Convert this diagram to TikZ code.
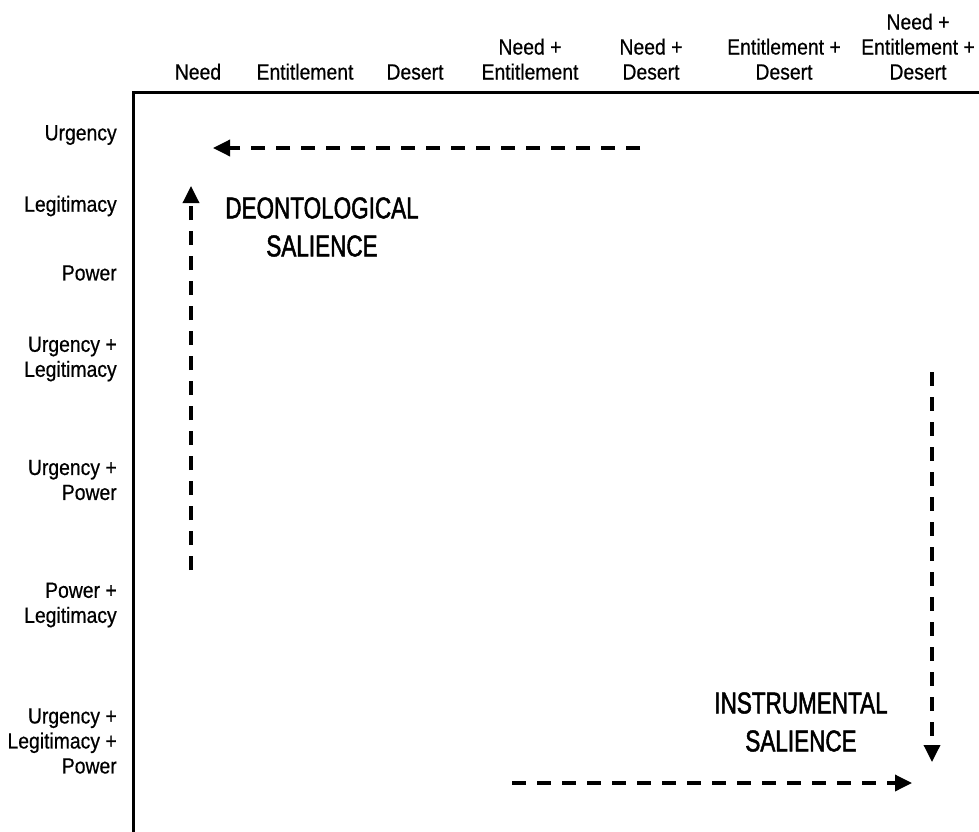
\documentclass[tikz,border=0pt]{standalone}
\usepackage{fontspec}
\setmainfont{Liberation Sans}
\newfontfamily\lblfont{Liberation Sans}[FakeStretch=0.88,FakeBold=0.6]
\newfontfamily\capfont{Liberation Sans}[FakeStretch=0.75,FakeBold=1.6]
\usetikzlibrary{arrows.meta}
\begin{document}
\begin{tikzpicture}[x=0.75pt,y=-0.75pt,
  collbl/.style={font=\lblfont\fontsize{16.5}{18.75}\selectfont, align=center, anchor=south, inner sep=0pt},
  rowlbl/.style={font=\lblfont\fontsize{16.5}{18.75}\selectfont, align=right, anchor=east, inner sep=0pt},
  titlelbl/.style={font=\capfont\fontsize{22.5}{28.5}\selectfont, align=center, inner sep=0pt},
  dasharrow/.style={line width=2.6pt, dash pattern=on 10.5pt off 8.25pt, -{Triangle[length=12.75pt,width=12pt]}},
  framelines/.style={line width=2.25pt}]
\useasboundingbox (0,0) rectangle (979,832);
% frame
\coordinate (corner) at (133,92);
\coordinate (topend) at (990,92);
\coordinate (leftend) at (133,840);
\draw[framelines] (topend) -- (corner) -- (leftend);
% column labels
\node[collbl] (c1) at (198,80) {Need};
\node[collbl] (c2) at (305,80) {Entitlement};
\node[collbl] (c3) at (415,80) {Desert};
\node[collbl] (c4) at (530,80) {Need +\\Entitlement};
\node[collbl] (c5) at (651,80) {Need +\\Desert};
\node[collbl] (c6) at (784,80) {Entitlement +\\Desert};
\node[collbl] (c7) at (918,80) {Need +\\Entitlement +\\Desert};
% row labels
\node[rowlbl] (r1) at (117,135) {Urgency};
\node[rowlbl] (r2) at (117,206) {Legitimacy};
\node[rowlbl] (r3) at (117,273) {Power};
\node[rowlbl] (r4) at (117,359) {Urgency +\\Legitimacy};
\node[rowlbl] (r5) at (117,480) {Urgency +\\Power};
\node[rowlbl] (r6) at (117,605) {Power +\\Legitimacy};
\node[rowlbl] (r7) at (117,741) {Urgency +\\Legitimacy +\\Power};
% titles
\node[titlelbl] (deon) at (322,227) {DEONTOLOGICAL\\SALIENCE};
\node[titlelbl] (instr) at (801,722) {INSTRUMENTAL\\SALIENCE};
% arrows
\coordinate (a1s) at (640,148);
\coordinate (a1e) at (213,148);
\coordinate (a2s) at (191,570);
\coordinate (a2e) at (191,186);
\coordinate (a3s) at (932,372);
\coordinate (a3e) at (932,762);
\coordinate (a4s) at (512,783);
\coordinate (a4e) at (912,783);
\draw[dasharrow] (a1s) -- (a1e);
\draw[dasharrow] (a2s) -- (a2e);
\draw[dasharrow] (a3s) -- (a3e);
\draw[dasharrow] (a4s) -- (a4e);
\end{tikzpicture}
\end{document}
